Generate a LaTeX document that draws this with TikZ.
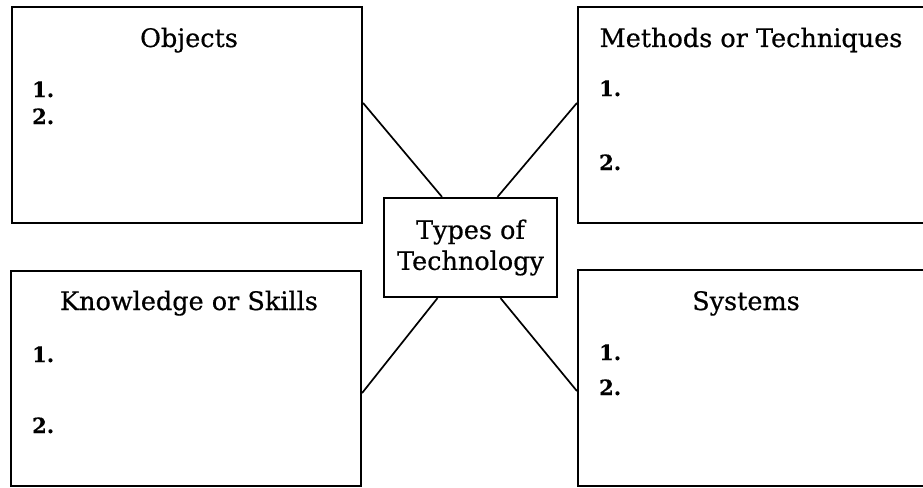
\documentclass[tikz,border=0pt]{standalone}
\usepackage{fontspec}
\setmainfont{DejaVu Serif}
\newfontfamily\titlefont[FakeBold=0.6]{DejaVu Serif}
\newfontfamily\numfont[FakeBold=0.5]{DejaVu Serif Bold}
\usetikzlibrary{calc}
\begin{document}
\begin{tikzpicture}[x=1pt,y=-1pt,
  panel/.style={draw=black,line width=2.2pt,inner sep=0pt,fill=none},
  hub/.style={draw=black,line width=2.2pt,inner sep=0pt,minimum width=173pt,minimum height=99pt,align=center,font=\titlefont\fontsize{25.5}{31}\selectfont},
  title/.style={anchor=base,inner sep=0pt,font=\titlefont\fontsize{25.5}{30}\selectfont},
  num/.style={anchor=base west,inner sep=0pt,font=\numfont\fontsize{21}{24}\selectfont},
  link/.style={draw=black,line width=1.7pt}]
\useasboundingbox (0,0) rectangle (923,487);
\clip (0,0) rectangle (923,487);
\node[panel,minimum width=350pt,minimum height=216pt] (tl) at (187,115) {};
\node[panel,minimum width=362pt,minimum height=216pt] (tr) at (759,115) {};
\node[panel,minimum width=350pt,minimum height=215pt] (bl) at (186,378.5) {};
\node[panel,minimum width=362pt,minimum height=216pt] (br) at (759,378) {};
\node[hub] (c) at (470.5,247.5) {Types of\\Technology};
\node[title] (tlt) at (189,47) {Objects};
\node[title] (trt) at (751,47) {Methods or Techniques};
\node[title] (blt) at (189,310) {Knowledge or Skills};
\node[title] (brt) at (746,310) {Systems};
\node[num] (tl1) at (32,97) {1.};
\node[num] (tl2) at (32,124) {2.};
\node[num] (tr1) at (599,96) {1.};
\node[num] (tr2) at (599,170) {2.};
\node[num] (bl1) at (32,362) {1.};
\node[num] (bl2) at (32,433) {2.};
\node[num] (br1) at (599,360) {1.};
\node[num] (br2) at (599,395) {2.};
\draw[link] ([yshift=12pt]tl.east) -- ([xshift=-28.5pt]c.north);
\draw[link] ([xshift=27pt]c.north) -- ([yshift=12pt]tr.west);
\draw[link] ([xshift=-33pt]c.south) -- ([yshift=-14.5pt]bl.east);
\draw[link] ([xshift=30pt]c.south) -- ([yshift=-13pt]br.west);
\end{tikzpicture}
\end{document}
